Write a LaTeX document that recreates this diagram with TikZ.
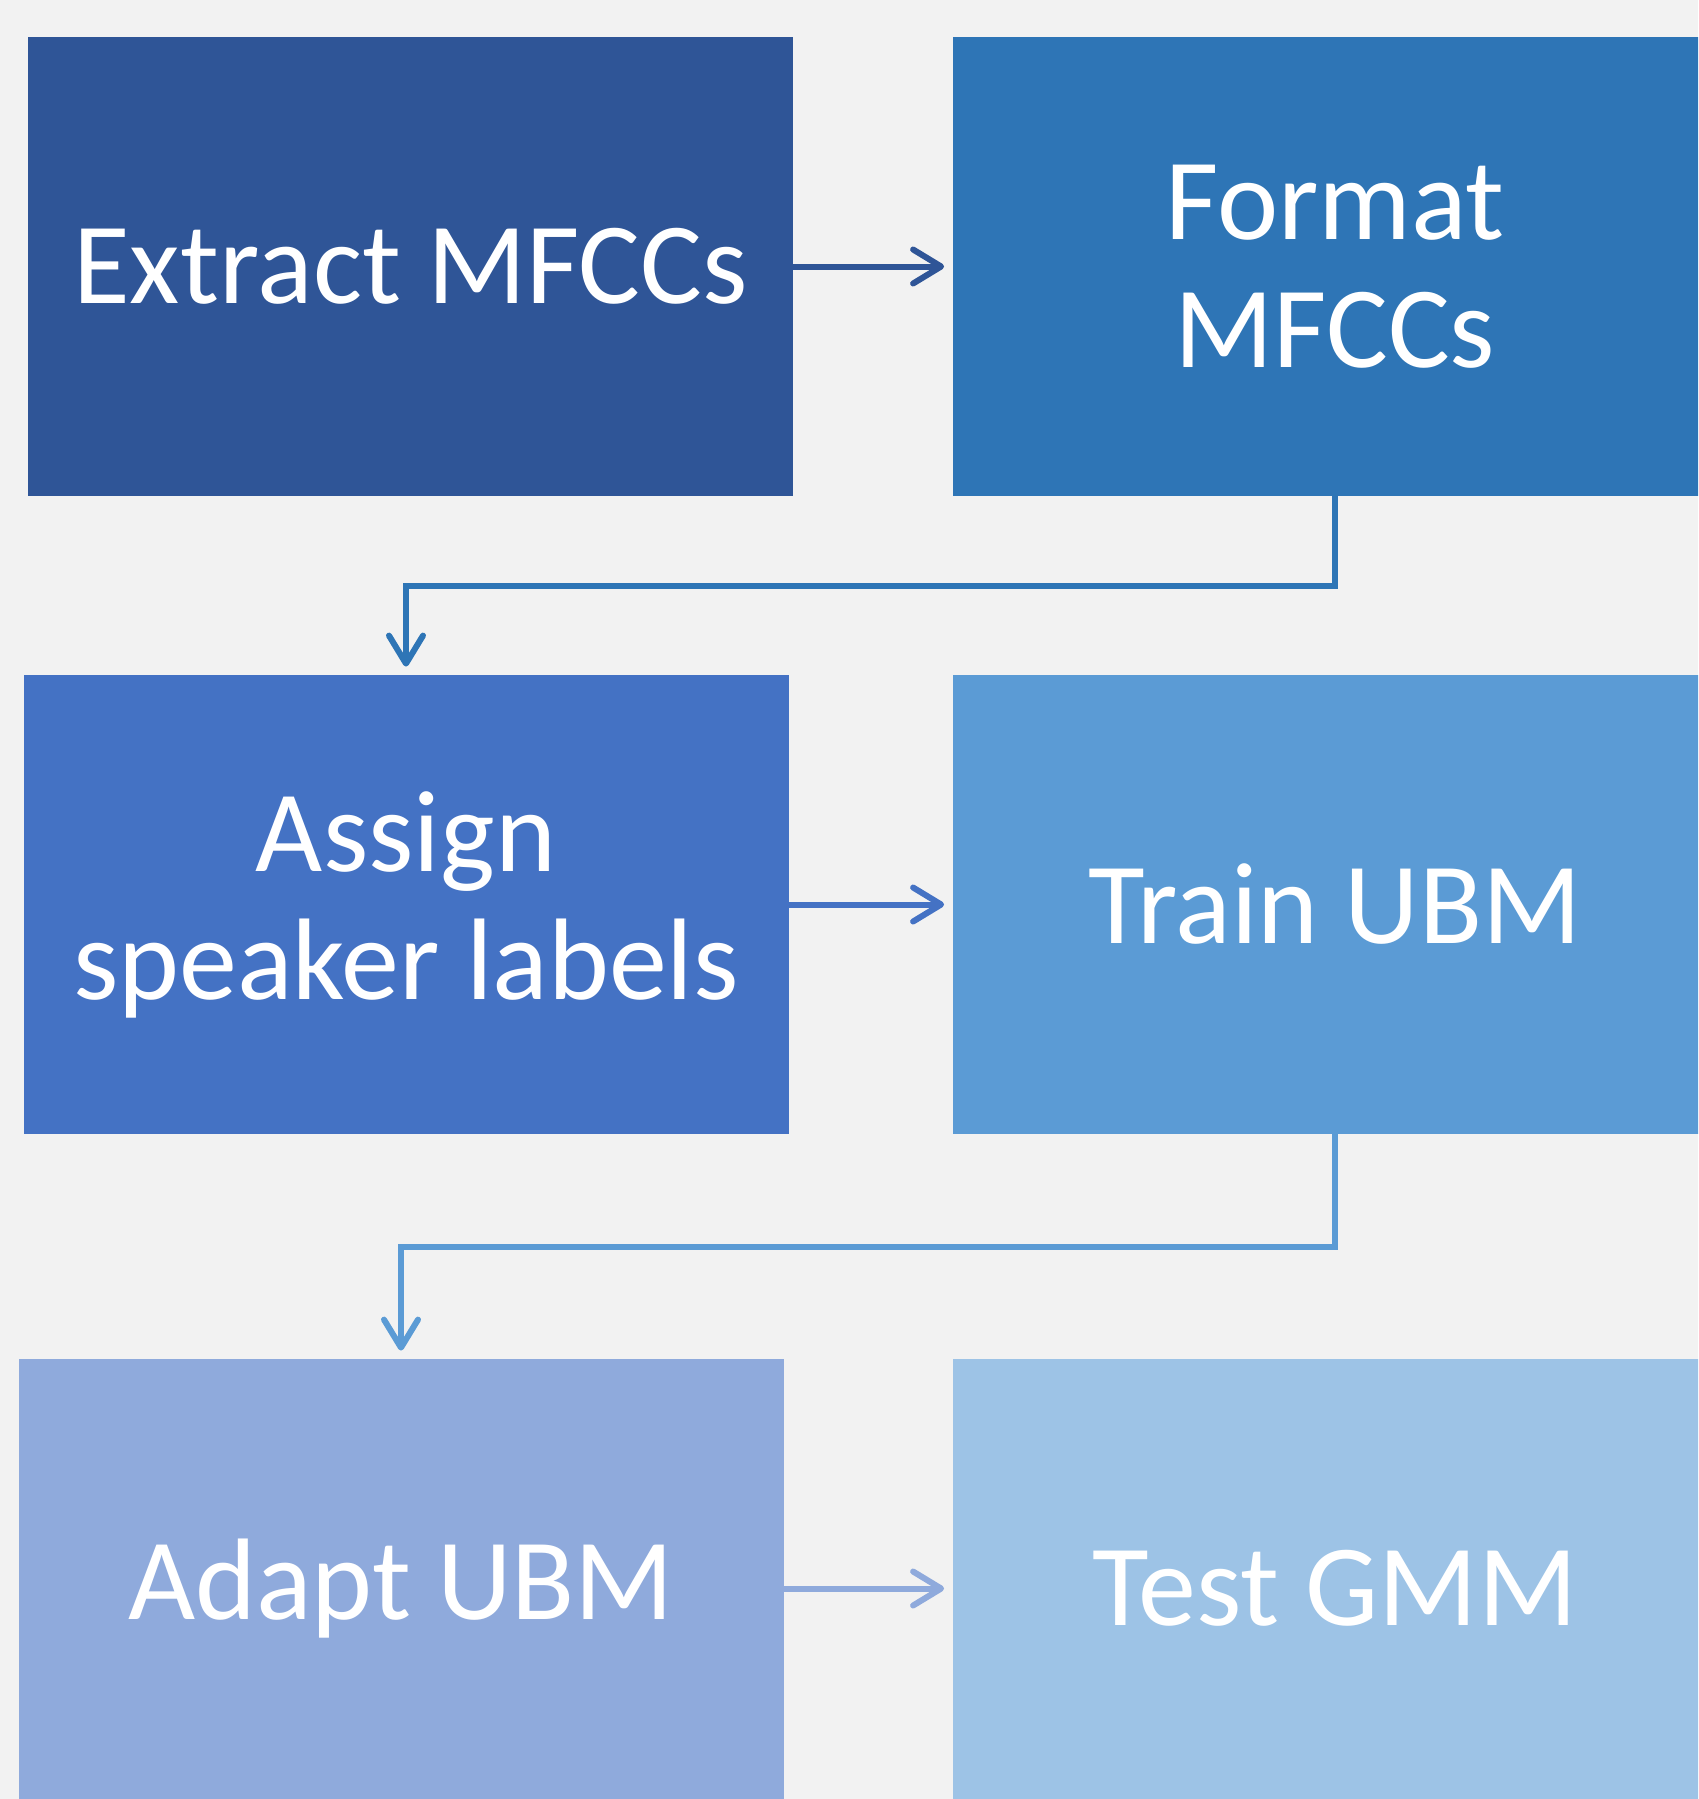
\documentclass[tikz,border=0pt]{standalone}
\usepackage{fontspec}
\setmainfont{Carlito}
\usetikzlibrary{arrows.meta,calc}
\definecolor{bg}{HTML}{F2F2F2}
\definecolor{cext}{HTML}{2F5597}
\definecolor{cfmt}{HTML}{2E75B6}
\definecolor{casg}{HTML}{4472C4}
\definecolor{ctrn}{HTML}{5B9BD5}
\definecolor{cadp}{HTML}{8FAADC}
\definecolor{ctst}{HTML}{9DC3E6}
\begin{document}
\begin{tikzpicture}[x=0.5pt,y=-0.5pt,
  box/.style={rectangle, inner sep=0pt, minimum width=382.5pt, minimum height=229.5pt,
    text=white, align=center, font=\fontsize{58}{64}\selectfont},
  conn/.style={line width=3pt, line cap=round, line join=miter,
    -{Straight Barb[length=14pt,width=17pt,round]}, shorten >=4pt}]
\useasboundingbox (0,0) rectangle (1698,1799);
\fill[bg] (0,0) rectangle (1698,1799);
\begin{scope}
\clip (0,0) rectangle (1698,1799);
\node[box,fill=cext] (ext) at (410.5,266.5) {Extract MFCCs};
\node[box,fill=cfmt] (fmt) at (1335,266.5) {Format\\MFCCs};
\node[box,fill=casg] (asg) at (406,904.5) {Assign\\speaker labels};
\node[box,fill=ctrn] (trn) at (1335,904.5) {Train UBM};
\node[box,fill=cadp] (adp) at (401,1588.5) {Adapt UBM};
\node[box,fill=ctst] (tst) at (1335,1588.5) {Test GMM};
\end{scope}
\draw[conn,cext] (ext.east) -- (fmt.west);
\draw[conn,cfmt] (fmt.south) |- ($(fmt.south)!.5!(asg.north)$) -| (asg.north);
\draw[conn,casg] (asg.east) -- (trn.west);
\draw[conn,ctrn] (trn.south) |- ($(trn.south)!.5!(adp.north)$) -| (adp.north);
\draw[conn,cadp] (adp.east) -- (tst.west);
\end{tikzpicture}
\end{document}
